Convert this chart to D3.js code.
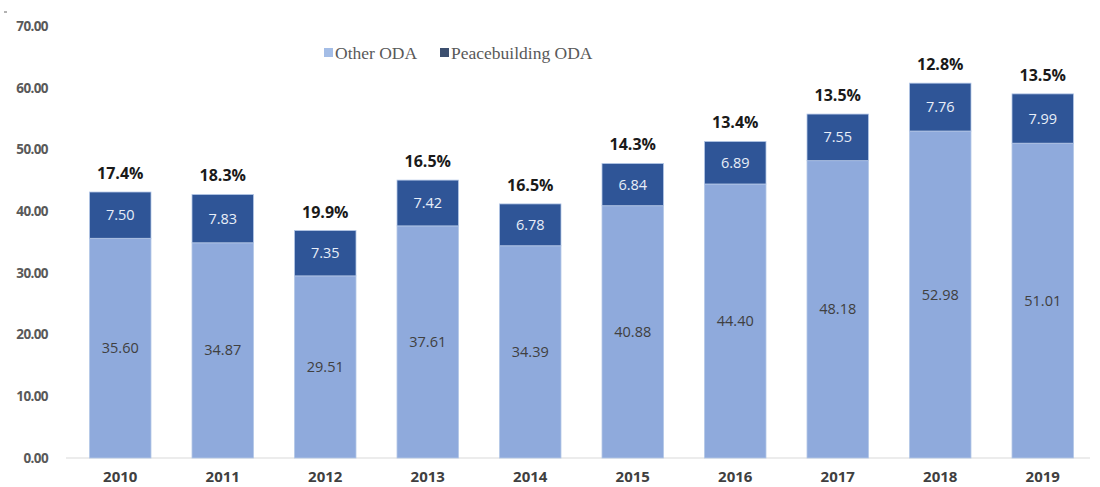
<!DOCTYPE html>
<html>
<head>
<meta charset="utf-8">
<script src="https://cdn.jsdelivr.net/npm/d3@7"></script>
<style>
  body { margin: 0; background: #fff; }
  svg { display: block; }
</style>
</head>
<body>
<div id="chart"></div>
<script>
const years = ["2010", "2011", "2012", "2013", "2014", "2015", "2016", "2017", "2018", "2019"];
const otherOda = [35.60, 34.87, 29.51, 37.61, 34.39, 40.88, 44.40, 48.18, 52.98, 51.01];
const peaceOda = [7.50, 7.83, 7.35, 7.42, 6.78, 6.84, 6.89, 7.55, 7.76, 7.99];
const shares = ["17.4%", "18.3%", "19.9%", "16.5%", "16.5%", "14.3%", "13.4%", "13.5%", "12.8%", "13.5%"];
const yTicks = [0, 10, 20, 30, 40, 50, 60, 70];

const width = 1100, height = 487;
const margin = { top: 26, right: 6, bottom: 29, left: 69 };

const svg = d3.select("#chart").append("svg")
    .attr("width", width)
    .attr("height", height);

const x = d3.scaleBand().domain(years)
    .range([margin.left, width - margin.right])
    .paddingInner(0.4).paddingOuter(0.2);
const y = d3.scaleLinear().domain([0, 70])
    .range([height - margin.bottom, margin.top]);

// little mark in the corner
svg.append("line").attr("x1", 4).attr("x2", 7).attr("y1", 12).attr("y2", 12)
    .attr("stroke", "#666").attr("stroke-width", 1);

// y axis labels
const yAxis = svg.append("g")
    .attr("transform", `translate(${margin.left - 18}, 0)`)
    .call(d3.axisLeft(y).tickValues(yTicks).tickFormat(d3.format(".2f")).tickSize(0));
yAxis.select(".domain").remove();
yAxis.selectAll("text")
    .attr("font-family", "Open Sans, sans-serif")
    .attr("font-weight", "bold")
    .attr("font-size", 13.5)
    .attr("letter-spacing", -0.6)
    .attr("fill", "#595959");

// baseline
svg.append("line")
    .attr("x1", 66).attr("x2", width - 10)
    .attr("y1", y(0)).attr("y2", y(0))
    .attr("stroke", "#d9d9d9").attr("stroke-width", 1);

const data = years.map((yr, i) => ({ yr, other: otherOda[i], peace: peaceOda[i], share: shares[i] }));

const bars = svg.append("g").selectAll("g").data(data).join("g");

bars.append("rect")
    .attr("x", d => x(d.yr))
    .attr("width", x.bandwidth())
    .attr("y", d => y(d.other))
    .attr("height", d => y(0) - y(d.other))
    .attr("fill", "#8faadc")
    .attr("stroke", "#b4c7e7").attr("stroke-width", 0.8);

bars.append("rect")
    .attr("x", d => x(d.yr))
    .attr("width", x.bandwidth())
    .attr("y", d => y(d.other + d.peace))
    .attr("height", d => y(d.other) - y(d.other + d.peace))
    .attr("fill", "#2f5597")
    .attr("stroke", "#b4c7e7").attr("stroke-width", 0.8);

bars.append("text")
    .attr("x", d => x(d.yr) + x.bandwidth() / 2)
    .attr("y", d => y(d.other / 2) + 5)
    .attr("text-anchor", "middle")
    .attr("font-family", "Open Sans, sans-serif")
    .attr("font-size", 14.5)
    .attr("fill", "#404040")
    .text(d => d.other.toFixed(2));

bars.append("text")
    .attr("x", d => x(d.yr) + x.bandwidth() / 2)
    .attr("y", d => y(d.other + d.peace / 2) + 5)
    .attr("text-anchor", "middle")
    .attr("font-family", "Open Sans, sans-serif")
    .attr("font-size", 14.5)
    .attr("fill", "#e8eef8")
    .text(d => d.peace.toFixed(2));

bars.append("text")
    .attr("x", d => x(d.yr) + x.bandwidth() / 2)
    .attr("y", d => y(d.other + d.peace) - 13)
    .attr("text-anchor", "middle")
    .attr("font-family", "Open Sans, sans-serif")
    .attr("font-weight", "bold")
    .attr("font-size", 16)
    .attr("fill", "#1a1a1a")
    .text(d => d.share);

// x axis labels
const xAxis = svg.append("g")
    .attr("transform", `translate(0, ${y(0) + 10})`)
    .call(d3.axisBottom(x).tickSize(0));
xAxis.select(".domain").remove();
xAxis.selectAll("text")
    .attr("font-family", "Open Sans, sans-serif")
    .attr("font-weight", "bold")
    .attr("font-size", 15)
    .attr("fill", "#404040");

// legend
const legendItems = [
    { label: "Other ODA", color: "#a4bde6", x: 324 },
    { label: "Peacebuilding ODA", color: "#3c4f6f", x: 440 }
];
const legend = svg.append("g").selectAll("g").data(legendItems).join("g")
    .attr("transform", d => `translate(${d.x}, 48)`);
legend.append("rect").attr("width", 9).attr("height", 9).attr("fill", d => d.color);
legend.append("text")
    .attr("x", 11).attr("y", 10.5)
    .attr("font-family", "Liberation Serif, Times New Roman, serif")
    .attr("font-size", 17.5)
    .attr("fill", "#595959")
    .text(d => d.label);
</script>
</body>
</html>
